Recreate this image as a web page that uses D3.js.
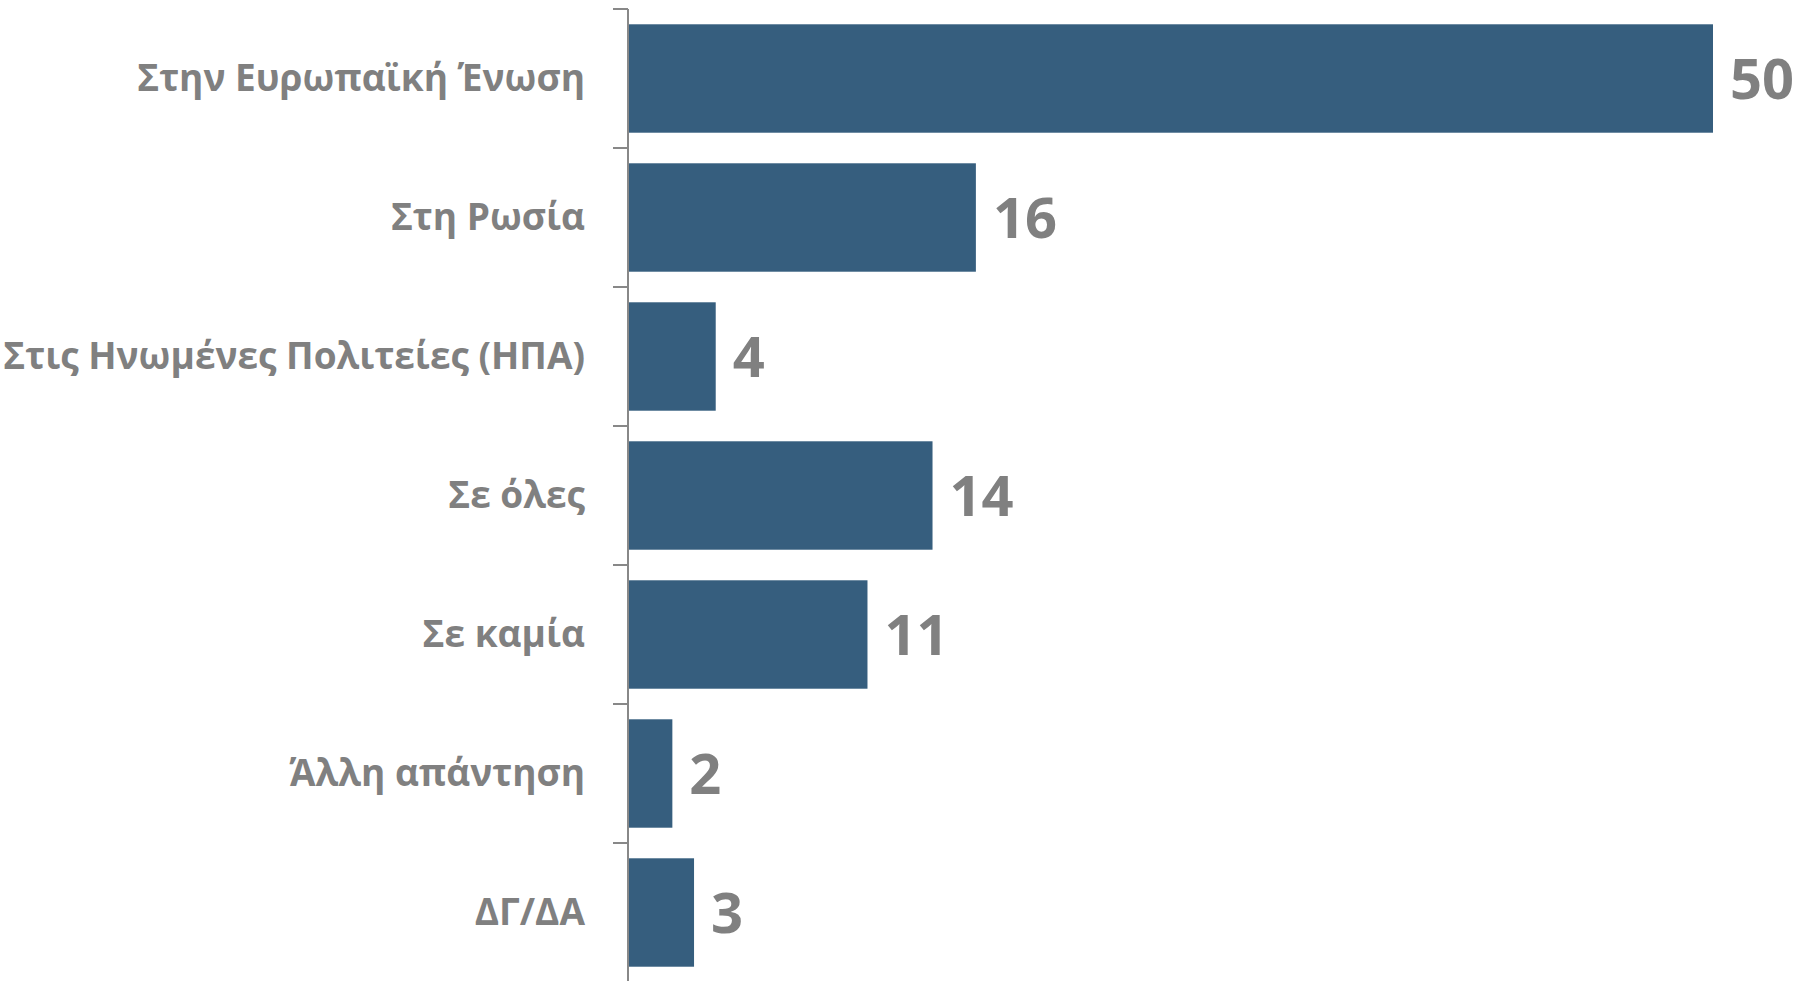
<!DOCTYPE html>
<html>
<head>
<meta charset="utf-8">
<script src="https://cdn.jsdelivr.net/npm/d3@7"></script>
<style>
  html, body { margin: 0; padding: 0; background: #fff; }
  svg { display: block; }
  .cat-label { font-family: "Open Sans", sans-serif; font-weight: 700; fill: #808080; }
  .val-label { font-family: "Open Sans", sans-serif; font-weight: 700; fill: #808080; }
</style>
</head>
<body>
<svg id="chart"></svg>
<script>
// data
const categories = [
  "Στην Ευρωπαϊκή Ένωση",
  "Στη Ρωσία",
  "Στις Ηνωμένες Πολιτείες (ΗΠΑ)",
  "Σε όλες",
  "Σε καμία",
  "Άλλη απάντηση",
  "ΔΓ/ΔΑ"
];
const values = [50, 16, 4, 14, 11, 2, 3];

const width = 1806, height = 981;
const margin = {top: 9, right: 93, bottom: -1, left: 629};

const svg = d3.select("#chart")
  .attr("width", width)
  .attr("height", height);

const x = d3.scaleLinear()
  .domain([0, 50])
  .range([margin.left, width - margin.right]);

const y = d3.scaleBand()
  .domain(categories)
  .range([margin.top, height - margin.bottom])
  .paddingInner(0.22)
  .paddingOuter(0.11);

// bars
svg.append("g")
  .selectAll("rect")
  .data(values)
  .join("rect")
  .attr("x", x(0))
  .attr("y", (d, i) => y(categories[i]))
  .attr("width", d => x(d) - x(0))
  .attr("height", y.bandwidth())
  .attr("fill", "#365e7e");

// category axis, ticks sit between the bands
const yAxis = svg.append("g")
  .attr("transform", `translate(${x(0) - 1},0)`);

yAxis.append("line")
  .attr("x1", 0).attr("x2", 0)
  .attr("y1", margin.top).attr("y2", height + 5)
  .attr("stroke", "#888").attr("stroke-width", 2);

const step = y.step();
const bounds = categories.map((c, i) => margin.top + i * step);
yAxis.selectAll(".tick")
  .data(bounds)
  .join("line")
  .attr("class", "tick")
  .attr("x1", -15).attr("x2", 0)
  .attr("y1", d => d).attr("y2", d => d)
  .attr("stroke", "#888").attr("stroke-width", 2);

svg.append("g")
  .selectAll("text")
  .data(categories)
  .join("text")
  .attr("class", "cat-label")
  .attr("x", 585)
  .attr("y", d => y(d) + y.bandwidth() / 2)
  .attr("dy", "0.35em")
  .attr("text-anchor", "end")
  .attr("font-size", 37)
  .text(d => d);

// value labels
svg.append("g")
  .selectAll("text")
  .data(values)
  .join("text")
  .attr("class", "val-label")
  .attr("x", d => x(d) + 17)
  .attr("y", (d, i) => y(categories[i]) + y.bandwidth() / 2)
  .attr("dy", "0.36em")
  .attr("font-size", 56)
  .text(d => d);
</script>
</body>
</html>
